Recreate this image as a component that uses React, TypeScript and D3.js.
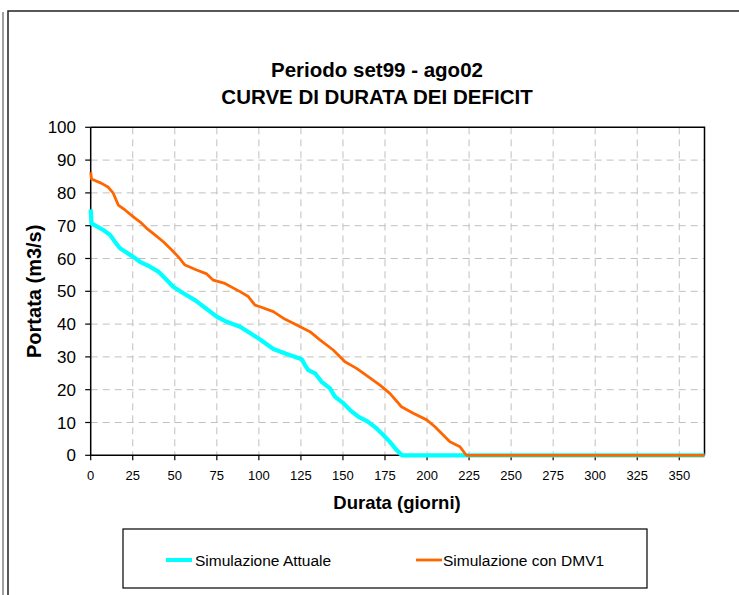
import React from "react";
import * as d3 from "d3";

const titleLines = ["Periodo set99 - ago02", "CURVE DI DURATA DEI DEFICIT"];
const xTicks = [0, 25, 50, 75, 100, 125, 150, 175, 200, 225, 250, 275, 300, 325, 350];
const yTicks = [0, 10, 20, 30, 40, 50, 60, 70, 80, 90, 100];

const attualeDays = [0, 0.5, 1.5, 7.5, 11.5, 14.4, 17.4, 20.4, 25.3, 29.3, 35.3, 40.2, 44.2, 49.1, 55.1, 62, 69, 74.9, 80.9, 88.8, 94.7, 100.7, 108.6, 116.5, 125.5, 127.4, 129.4, 133.4, 137.3, 142.3, 145.2, 150.2, 154.2, 159.1, 165, 170, 174, 177.9, 181.9, 185, 365];
const attualeValues = [75, 70.6, 70.4, 68.7, 67.2, 65.1, 63.1, 62.1, 60.5, 59, 57.5, 56, 54, 51.4, 49.4, 47.3, 44.6, 42.3, 40.7, 39.2, 37.3, 35.3, 32.4, 30.9, 29.3, 27.5, 26, 25, 22.4, 20.4, 17.9, 15.9, 13.8, 11.8, 10.2, 8.2, 6.2, 4.1, 1.6, 0, 0];

const dmvDays = [0, 0.5, 1.5, 6.5, 10.5, 13.4, 16.4, 20.4, 26.3, 29.3, 33.3, 38.2, 43.2, 48.2, 52.1, 56.1, 63, 69, 72.9, 79.8, 88.8, 93.7, 97.7, 100.7, 108.6, 114.5, 122.5, 130.4, 136.3, 144.2, 151.2, 158.1, 165, 172, 177.9, 184.8, 191.8, 199.8, 204.7, 209.6, 213.6, 219.6, 222.5, 223.5, 365];
const dmvValues = [86.3, 84.2, 84, 82.9, 81.7, 79.9, 76.3, 74.8, 72.3, 71.2, 69.2, 67.2, 65.1, 62.6, 60.5, 58, 56.5, 55.3, 53.4, 52.4, 49.9, 48.4, 45.8, 45.3, 43.8, 41.8, 39.7, 37.7, 35.2, 32.1, 28.5, 26.5, 24, 21.4, 18.9, 14.8, 12.8, 10.8, 8.7, 6.2, 4.1, 2.6, 0.6, 0, 0];

const seriesNames = ["Simulazione Attuale", "Simulazione con DMV1"];
const seriesColors = ["#00FFFF", "#FF6600"];

const W = 739;
const H = 595;
const left = 90.7;
const right = 704.5;
const top = 127.3;
const bottom = 455.3;
const font = "'Liberation Sans', Arial, sans-serif";

export default function App() {
  const x = d3.scaleLinear().domain([0, 365]).range([left, right]);
  const y = d3.scaleLinear().domain([0, 100]).range([bottom, top]);
  const line = d3
    .line<[number, number]>()
    .x((d) => x(d[0]))
    .y((d) => y(d[1]));
  const attuale = attualeDays.map((d, i) => [d, attualeValues[i]] as [number, number]);
  const dmv = dmvDays.map((d, i) => [d, dmvValues[i]] as [number, number]);

  return (
    <svg
      width={W}
      height={H}
      style={{ position: "absolute", left: 0, top: 0, background: "#fff" }}
    >
      <rect x={0} y={0} width={W} height={H} fill="#fff" />
      {/* outer frames */}
      <line x1={3} y1={12} x2={3} y2={H} stroke="#808080" strokeWidth={1.5} />
      <path d={`M8,${H} V11 H${W}`} fill="none" stroke="#222" strokeWidth={1.5} />

      {/* title */}
      {titleLines.map((t, i) => (
        <text
          key={t}
          x={377}
          y={77 + i * 27}
          textAnchor="middle"
          fontFamily={font}
          fontWeight="bold"
          fontSize={20.5}
          fill="#000"
        >
          {t}
        </text>
      ))}

      {/* grid */}
      {yTicks
        .filter((v) => v > 0 && v < 100)
        .map((v) => (
          <line
            key={"gy" + v}
            x1={left}
            x2={right}
            y1={y(v)}
            y2={y(v)}
            stroke="#c0c0c0"
            strokeWidth={1}
            strokeDasharray="7,5"
          />
        ))}
      {xTicks
        .filter((v) => v > 0)
        .map((v) => (
          <line
            key={"gx" + v}
            x1={x(v)}
            x2={x(v)}
            y1={top}
            y2={bottom}
            stroke="#c0c0c0"
            strokeWidth={1}
            strokeDasharray="7,5"
          />
        ))}

      {/* plot border */}
      <path
        d={`M${left},${top} H${right} V${bottom}`}
        fill="none"
        stroke="#000"
        strokeWidth={1.5}
      />
      <path
        d={`M${left},${top} V${bottom} H${right}`}
        fill="none"
        stroke="#000"
        strokeWidth={1.5}
      />

      {/* ticks */}
      {yTicks.map((v) => (
        <g key={"ty" + v}>
          <line x1={left - 5.5} x2={left} y1={y(v)} y2={y(v)} stroke="#000" strokeWidth={1.2} />
          <text
            x={76}
            y={y(v) + 6}
            textAnchor="end"
            fontFamily={font}
            fontSize={17}
            fill="#000"
          >
            {v}
          </text>
        </g>
      ))}
      {xTicks.map((v) => (
        <g key={"tx" + v}>
          <line x1={x(v)} x2={x(v)} y1={bottom} y2={bottom + 5} stroke="#000" strokeWidth={1.2} />
          <text
            x={x(v)}
            y={479.5}
            textAnchor="middle"
            fontFamily={font}
            fontSize={13}
            fill="#000"
          >
            {v}
          </text>
        </g>
      ))}

      {/* series */}
      <path d={line(attuale) || ""} fill="none" stroke={seriesColors[0]} strokeWidth={4.2} strokeLinejoin="round" />
      <path d={line(dmv) || ""} fill="none" stroke={seriesColors[1]} strokeWidth={2.8} strokeLinejoin="round" />

      {/* axis titles */}
      <text
        x={397}
        y={509}
        textAnchor="middle"
        fontFamily={font}
        fontWeight="bold"
        fontSize={18.5}
        fill="#000"
      >
        Durata (giorni)
      </text>
      <text
        transform={`translate(41,${(top + bottom) / 2}) rotate(-90)`}
        textAnchor="middle"
        fontFamily={font}
        fontWeight="bold"
        fontSize={20}
        fill="#000"
      >
        Portata (m3/s)
      </text>

      {/* legend */}
      <rect x={123} y={529} width={524} height={59} fill="#fff" stroke="#000" strokeWidth={1.2} />
      <line x1={166} x2={192} y1={560} y2={560} stroke={seriesColors[0]} strokeWidth={4} />
      <text x={195} y={565.5} fontFamily={font} fontSize={15.5} fill="#000">
        {seriesNames[0]}
      </text>
      <line x1={416} x2={442} y1={560} y2={560} stroke={seriesColors[1]} strokeWidth={2.8} />
      <text x={443} y={565.5} fontFamily={font} fontSize={15.5} fill="#000">
        {seriesNames[1]}
      </text>
    </svg>
  );
}
